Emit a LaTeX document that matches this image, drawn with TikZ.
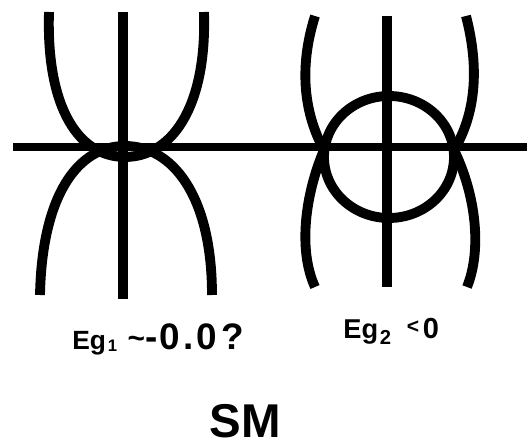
\documentclass[tikz,border=0pt]{standalone}
\usepackage{fontspec}
\setmainfont{Liberation Sans}
\usetikzlibrary{positioning}
\definecolor{inkblack}{HTML}{000000}
\tikzset{
  axisline/.style={draw=inkblack, line width=4.5pt},
  stemline/.style={draw=inkblack, line width=5.6pt},
  bandcurve/.style={draw=inkblack, line width=5.6pt},
  eqtext/.style={inner sep=0pt, font=\bfseries, text=inkblack},
  bigtitle/.style={inner sep=0pt, font=\bfseries\fontsize{27}{27}\selectfont, text=inkblack}
}
\newcommand{\fsz}[1]{\fontsize{#1}{#1}\selectfont}
\begin{document}
\begin{tikzpicture}[x=0.02cm, y=-0.02cm]
\useasboundingbox (0,0) rectangle (529,446);
% axis
\coordinate (axl) at (13,147);
\coordinate (axr) at (527,147);
\draw[axisline] (axl) -- (axr);
% left picture: touching bands
\draw[stemline] (123,12) -- (123,299);
\draw[bandcurve] (49,12) .. controls (46,110) and (80,157) .. (125,157)
  .. controls (170,157) and (207,110) .. (204,12);
\draw[bandcurve] (40,295) .. controls (42,195) and (78,146) .. (125,146)
  .. controls (172,146) and (212,195) .. (212,295);
% right picture: inverted bands
\draw[stemline] (387,16) -- (387,287);
\draw[bandcurve] (389,157) ellipse [x radius=65, y radius=61];
\draw[bandcurve] (315,16) .. controls (298,70) and (305,115) .. (324,150)
  .. controls (305,195) and (298,250) .. (315,287);
\draw[bandcurve] (466,16) .. controls (480,70) and (475,115) .. (454,150)
  .. controls (476,195) and (482,250) .. (467,287);
% labels
\node[eqtext, anchor=base west] (gapone) at (72,350)
  {\fsz{15}Eg\kern1pt\raisebox{-1pt}{\fsz{9.5}1}\hspace{6pt}\raisebox{1pt}{\fsz{17}\textasciitilde}{\fsz{21}-\kern1pt0\kern2pt.\kern2pt0\kern2.5pt?}};
\node[eqtext, anchor=base west] (gaptwo) at (343,339)
  {\fsz{15.5}Eg\kern1pt\raisebox{-3pt}{\fsz{11.5}2}\hspace{9pt}\raisebox{3pt}{\fsz{12}<}\kern2pt{\fsz{16.5}0}};
\node[bigtitle, anchor=base] (smlabel) at (245,438) {SM};
\end{tikzpicture}
\end{document}
